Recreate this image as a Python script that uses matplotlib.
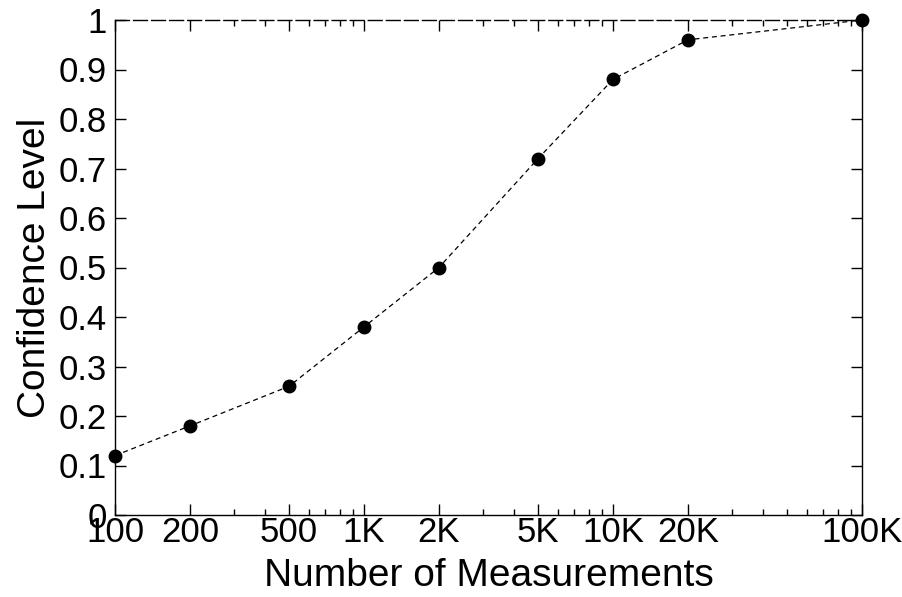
import matplotlib
matplotlib.use("Agg")
import matplotlib.pyplot as plt
from matplotlib.ticker import FixedLocator, LogLocator, NullFormatter

plt.rcParams['font.family'] = ['Liberation Sans', 'DejaVu Sans']

# dati
measurements = [100, 200, 500, 1000, 2000, 5000, 10000, 20000, 100000]
confidence = [0.12, 0.18, 0.26, 0.38, 0.50, 0.72, 0.88, 0.96, 1.0]
xtick_labels = ["100", "200", "500", "1K", "2K", "5K", "10K", "20K", "100K"]
yticks = [0, 0.1, 0.2, 0.3, 0.4, 0.5, 0.6, 0.7, 0.8, 0.9, 1]
ytick_labels = ["0", "0.1", "0.2", "0.3", "0.4", "0.5", "0.6", "0.7", "0.8", "0.9", "1"]

fig = plt.figure(figsize=(9.03, 5.97), dpi=100)
ax = fig.add_axes([115/903, 1 - 515/597, (862-115)/903, (515-20)/597])

ax.plot(measurements, confidence, linestyle="--", color="black", linewidth=0.9,
        dashes=(4, 3), marker="o", markersize=9, markerfacecolor="black",
        markeredgecolor="black", clip_on=False, zorder=5)

ax.set_xscale("log")
ax.set_xlim(100, 100000)
ax.set_ylim(0, 1)

ax.xaxis.set_major_locator(FixedLocator(measurements))
ax.set_xticklabels(xtick_labels)
ax.xaxis.set_minor_locator(LogLocator(base=10, subs=range(2, 10)))
ax.xaxis.set_minor_formatter(NullFormatter())
ax.set_yticks(yticks)
ax.set_yticklabels(ytick_labels)

ax.tick_params(axis="both", which="both", direction="in", top=True, right=True,
               labelsize=25, width=1, colors="black")
ax.tick_params(axis="both", which="major", length=8)
ax.tick_params(axis="x", which="minor", length=4)
ax.tick_params(axis="x", pad=1)
ax.tick_params(axis="y", pad=6)

for s in ax.spines.values():
    s.set_linewidth(1)
ax.spines["top"].set_linestyle((0, (10, 3)))

ax.set_xlabel("Number of Measurements", fontsize=28, labelpad=6)
ax.set_ylabel("Confidence Level", fontsize=28, labelpad=4)

fig.savefig("out.png", dpi=100)
